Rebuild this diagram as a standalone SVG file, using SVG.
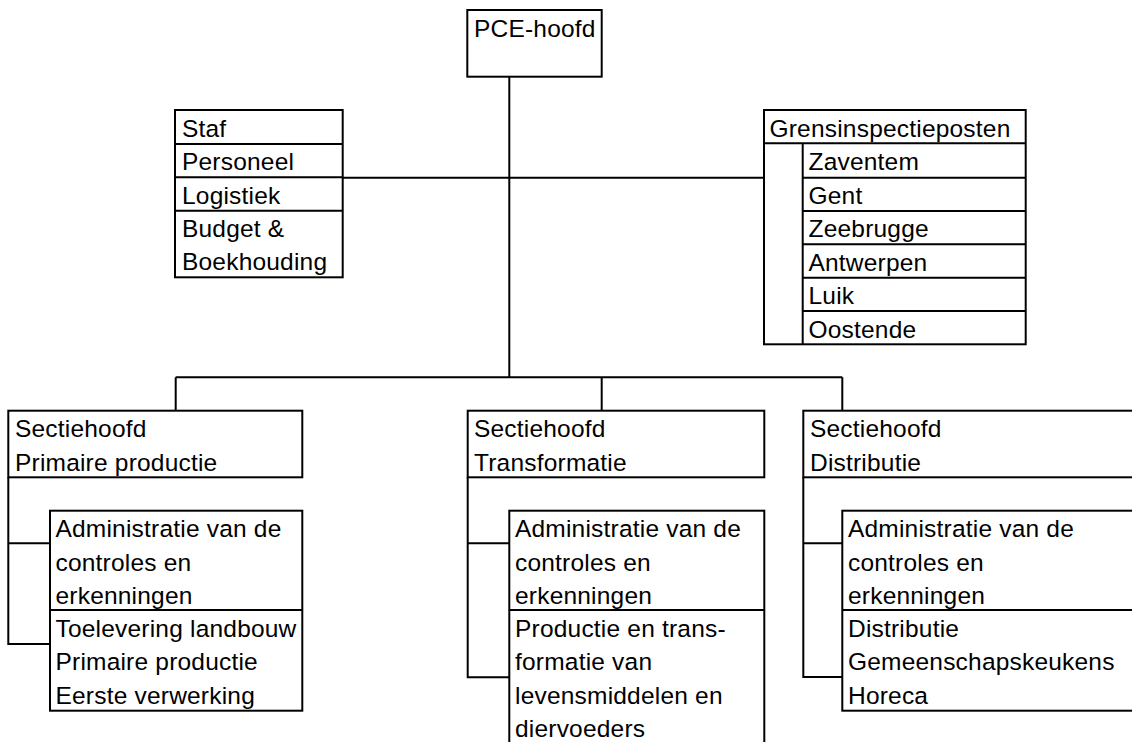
<svg xmlns="http://www.w3.org/2000/svg" width="1132" height="742" viewBox="0 0 1132 742">
<style>
.b{fill:#fff;stroke:#000;stroke-width:2}
.l{fill:none;stroke:#000;stroke-width:2}
text{font-family:"Liberation Sans",Arial,sans-serif;font-size:24.5px;letter-spacing:0.2px;fill:#000}
</style>
<rect width="1132" height="742" fill="#fff"/>
<g id="connectors">
<path class="l" d="M509.3 76.7V377.3M343 177.7H764M175.7 377.3H842.3M175.7 377.3V410.7M601.7 377.3V410.7M842.3 377.3V410.7"/>
<path class="l" d="M8.3 477.3V644H50M8.3 543.3H50"/>
<path class="l" d="M467.7 477.3V677.3H509.3M467.7 543.3H509.3"/>
<path class="l" d="M803.3 477.3V677H842.3M803.3 543.3H842.3"/>
</g>
<g id="pce">
<rect class="b" x="467.3" y="10" width="134.4" height="66.7"/>
<text x="474" y="36.5">PCE-hoofd</text>
</g>
<g id="staf">
<rect class="b" x="175" y="110" width="167.7" height="167.3"/>
<path class="l" d="M175 144H342.7M175 177.3H342.7M175 210.7H342.7"/>
<text x="182" y="136.5">Staf</text>
<text x="182" y="170">Personeel</text>
<text x="182" y="203.5">Logistiek</text>
<text x="182" y="237">Budget &amp;</text>
<text x="182" y="270">Boekhouding</text>
</g>
<g id="grens">
<rect class="b" x="764" y="110" width="261.7" height="234.3"/>
<path class="l" d="M764 143.3H1025.7M802.7 143.3V344.3M802.7 177.7H1025.7M802.7 211H1025.7M802.7 244.3H1025.7M802.7 277.7H1025.7M802.7 311H1025.7"/>
<text x="769.5" y="136.5">Grensinspectieposten</text>
<text x="808.5" y="170">Zaventem</text>
<text x="808.5" y="203.5">Gent</text>
<text x="808.5" y="237">Zeebrugge</text>
<text x="808.5" y="270.5">Antwerpen</text>
<text x="808.5" y="304">Luik</text>
<text x="808.5" y="337.5">Oostende</text>
</g>
<g id="sectie-primaire">
<rect class="b" x="8.3" y="410.7" width="294" height="66.6"/>
<text x="15" y="437">Sectiehoofd</text>
<text x="15" y="470.5">Primaire productie</text>
</g>
<g id="sub-primaire">
<rect class="b" x="50" y="510.7" width="252.3" height="200"/>
<path class="l" d="M50 610H302.3"/>
<text x="55.5" y="537">Administratie van de</text>
<text x="55.5" y="570.5">controles en</text>
<text x="55.5" y="604">erkenningen</text>
<text x="55.5" y="636.5">Toelevering landbouw</text>
<text x="55.5" y="670">Primaire productie</text>
<text x="55.5" y="703.5">Eerste verwerking</text>
</g>
<g id="sectie-transformatie">
<rect class="b" x="467.7" y="410.7" width="296.6" height="66.6"/>
<text x="474" y="437">Sectiehoofd</text>
<text x="474" y="470.5">Transformatie</text>
</g>
<g id="sub-transformatie">
<rect class="b" x="509.3" y="510.7" width="255" height="250"/>
<path class="l" d="M509.3 610H764.3"/>
<text x="515" y="537">Administratie van de</text>
<text x="515" y="570.5">controles en</text>
<text x="515" y="604">erkenningen</text>
<text x="515" y="636.5">Productie en trans-</text>
<text x="515" y="670">formatie van</text>
<text x="515" y="703.5">levensmiddelen en</text>
<text x="515" y="737">diervoeders</text>
</g>
<g id="sectie-distributie">
<rect class="b" x="803.3" y="410.7" width="340" height="66.6"/>
<text x="810" y="437">Sectiehoofd</text>
<text x="810" y="470.5">Distributie</text>
</g>
<g id="sub-distributie">
<rect class="b" x="842.3" y="510.7" width="300" height="200"/>
<path class="l" d="M842.3 610H1142"/>
<text x="848" y="537">Administratie van de</text>
<text x="848" y="570.5">controles en</text>
<text x="848" y="604">erkenningen</text>
<text x="848" y="636.5">Distributie</text>
<text x="848" y="670">Gemeenschapskeukens</text>
<text x="848" y="703.5">Horeca</text>
</g>
</svg>
